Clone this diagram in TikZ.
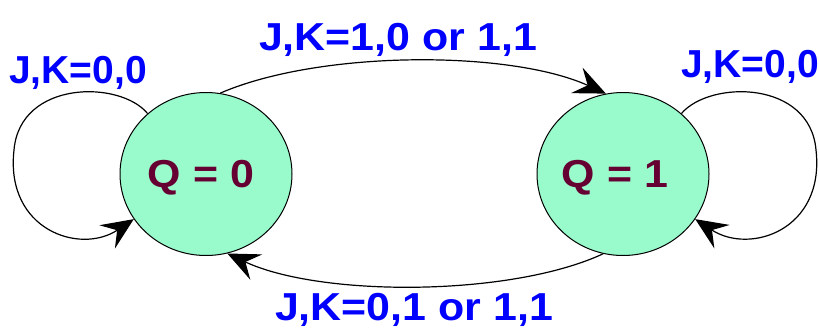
\documentclass[tikz,border=0pt]{standalone}
\usepackage{fontspec}
\setmainfont{Liberation Sans}
\usetikzlibrary{shapes.geometric,arrows.meta}
\definecolor{mint}{HTML}{99FACB}
\definecolor{maroon}{HTML}{660033}
\definecolor{lblue}{HTML}{0000FF}
\tikzset{
  state/.style={ellipse, draw=black, line width=1pt, fill=mint,
    minimum width=172pt, minimum height=163pt, inner sep=0pt},
  stxt/.style={text=maroon, font=\fontsize{39}{40}\selectfont\bfseries,
    inner sep=0pt, anchor=base, xscale=1.1},
  lbl/.style={text=lblue, font=\fontsize{39}{40}\selectfont\bfseries, inner sep=0pt, anchor=base},
  conn/.style={draw=black, line width=1.2pt,
    -{Stealth[length=32pt, width=28pt, inset=12pt]}}
}
\begin{document}
\begin{tikzpicture}[x=1pt, y=-1pt]
\useasboundingbox (0,0) rectangle (819,327);
\node[state] (q0) at (206,174) {};
\node[state] (q1) at (623,174) {};
\node[stxt] (t0) at (201,187) {Q = 0};
\node[stxt] (t1) at (615,187) {Q = 1};
\draw[conn] (q0.80) .. controls (320,50) and (510,50) .. (q1.102);
\draw[conn] (q1.256) .. controls (510,297) and (320,297) .. (q0.285);
\draw[conn] (q0.134) .. controls (120,80) and (20,80) .. (14,150)
   .. controls (5,230) and (80,255) .. (q0.212);
\draw[conn] (q1.46) .. controls (710,80) and (810,80) .. (816,150)
   .. controls (825,230) and (750,255) .. (q1.328);
\node[lbl, xscale=1.1] (top) at (398,50) {J,K=1,0 or 1,1};
\node[lbl, xscale=1.1] (bot) at (414,320) {J,K=0,1 or 1,1};
\node[lbl] (l0) at (78,83) {J,K=0,0};
\node[lbl] (l1) at (750,77) {J,K=0,0};
\end{tikzpicture}
\end{document}
